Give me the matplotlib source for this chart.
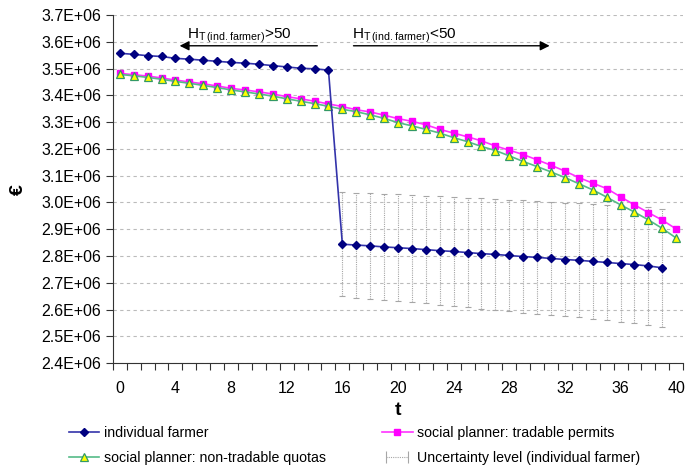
import matplotlib
matplotlib.use('Agg')
import matplotlib.pyplot as plt
from matplotlib.ticker import FuncFormatter, MultipleLocator
from matplotlib.lines import Line2D
from matplotlib.legend_handler import HandlerLine2D
import numpy as np

plt.rcParams['font.family'] = ['Liberation Sans', 'DejaVu Sans']

# Data (values in million EUR)
t_ind = list(range(0, 40))
individual = [3.557, 3.553, 3.548, 3.545, 3.538, 3.535, 3.531, 3.527, 3.523, 3.520,
              3.516, 3.511, 3.506, 3.501, 3.499, 3.494,
              2.844, 2.841, 2.838, 2.834, 2.831, 2.828, 2.824, 2.820, 2.817, 2.813,
              2.809, 2.806, 2.802, 2.798, 2.795, 2.791, 2.787, 2.784, 2.780, 2.776,
              2.772, 2.768, 2.763, 2.756]
t_err = list(range(16, 40))
uncertainty = [0.195, 0.196, 0.197, 0.198, 0.199, 0.200, 0.201, 0.203, 0.205, 0.205,
               0.206, 0.207, 0.209, 0.210, 0.210, 0.211, 0.212, 0.213, 0.215, 0.215,
               0.217, 0.218, 0.219, 0.221]

t_sp = list(range(0, 41))
tradable = [3.482, 3.477, 3.472, 3.465, 3.457, 3.450, 3.443, 3.435, 3.426, 3.420,
            3.413, 3.405, 3.395, 3.387, 3.378, 3.368, 3.358, 3.346, 3.338, 3.326,
            3.313, 3.303, 3.290, 3.273, 3.259, 3.245, 3.230, 3.211, 3.195, 3.179,
            3.159, 3.139, 3.117, 3.093, 3.072, 3.052, 3.021, 2.991, 2.962, 2.934,
            2.901]
non_tradable = [3.478, 3.473, 3.467, 3.460, 3.452, 3.445, 3.437, 3.429, 3.420, 3.413,
                3.405, 3.397, 3.387, 3.378, 3.369, 3.359, 3.348, 3.339, 3.327, 3.314,
                3.298, 3.286, 3.273, 3.259, 3.242, 3.227, 3.209, 3.194, 3.174, 3.153,
                3.134, 3.114, 3.093, 3.070, 3.047, 3.020, 2.991, 2.964, 2.935, 2.903,
                2.867]

scale = 1e6
fig = plt.figure(figsize=(6.88, 4.68), dpi=100)
ax = fig.add_axes([0.164, 0.224, 0.829, 0.744])

ind = np.array(individual) * scale
err_idx = [t_ind.index(t) for t in t_err]

eb = ax.errorbar(t_err, ind[err_idx], yerr=np.array(uncertainty) * scale, fmt='none',
                 ecolor='#a6a6a6', elinewidth=0.8, capsize=2.5, capthick=0.8, zorder=2)
eb[2][0].set_linestyle((0, (1, 1)))

l_ind, = ax.plot(t_ind, ind, color='#3333aa', lw=1.2, marker='D', ms=4.5,
                 mfc='#000080', mec='#000080', zorder=4)
l_tr, = ax.plot(t_sp, np.array(tradable) * scale, color='#ff33ff', lw=1.2, marker='s', ms=5,
                mfc='#ff00ff', mec='#ff00ff', zorder=3)
l_nt, = ax.plot(t_sp, np.array(non_tradable) * scale, color='#55bb88', lw=1.2, marker='^', ms=6,
                mfc='#ffff00', mec='#339966', mew=0.9, zorder=3)

ax.set_xlim(-0.5, 40.5)
ax.set_ylim(2.4e6, 3.7e6)
ax.yaxis.set_major_locator(MultipleLocator(0.1e6))
ax.yaxis.set_major_formatter(FuncFormatter(lambda v, p: f"{v:.1E}"))
ax.set_xticks(np.arange(0, 41, 4))
ax.set_xticks(np.arange(-0.5, 41, 1), minor=True)
ax.tick_params(axis='x', which='major', length=0, pad=13, labelsize=11.5)
ax.tick_params(axis='x', which='minor', length=5, width=0.8, color='#333333', direction='out')
ax.tick_params(axis='y', length=5, width=0.8, color='#333333', labelsize=11.5)
ax.grid(axis='y', linestyle=(0, (3, 3)), color='#bbbbbb', linewidth=0.8, zorder=0)
ax.spines['top'].set_visible(False)
ax.spines['right'].set_visible(False)
ax.spines['left'].set_color('#333333')
ax.spines['bottom'].set_color('#333333')

ax.set_xlabel('t', fontsize=14, fontweight='bold', labelpad=4)
ax.set_ylabel('€', fontsize=14, fontweight='bold', labelpad=10)

# regime annotations
ay = 3.585e6
ax.annotate('', xy=(4.1, ay), xytext=(14.4, ay),
            arrowprops=dict(arrowstyle='-|>', color='black', lw=1, mutation_scale=14))
ax.annotate('', xy=(31.1, ay), xytext=(16.6, ay),
            arrowprops=dict(arrowstyle='-|>', color='black', lw=1, mutation_scale=14))
ax.text(4.8, 3.613e6, r'H$_{\mathregular{T\,(ind.farmer)}}$>50', fontsize=11, ha='left', va='baseline')
ax.text(16.7, 3.613e6, r'H$_{\mathregular{T\,(ind.farmer)}}$<50', fontsize=11, ha='left', va='baseline')

# legend proxy for the uncertainty bars
unc_proxy = Line2D([], [], color='#a6a6a6', lw=0.8, linestyle=(0, (1, 1)),
                   marker='|', ms=8, mew=0.8, mec='#a6a6a6')

fig.legend([l_ind, l_nt, l_tr, unc_proxy],
           ['individual farmer', 'social planner: non-tradable quotas',
            'social planner: tradable permits', 'Uncertainty level (individual farmer)'],
           handler_map={unc_proxy: HandlerLine2D(numpoints=2)},
           ncol=2, loc='upper left', bbox_to_anchor=(0.1, 0.09), frameon=False,
           fontsize=10.2, handlelength=2.15, handletextpad=0.3, columnspacing=4.0,
           labelspacing=0.75, borderaxespad=0, borderpad=0)

fig.savefig('out.png', dpi=100, facecolor='white')
